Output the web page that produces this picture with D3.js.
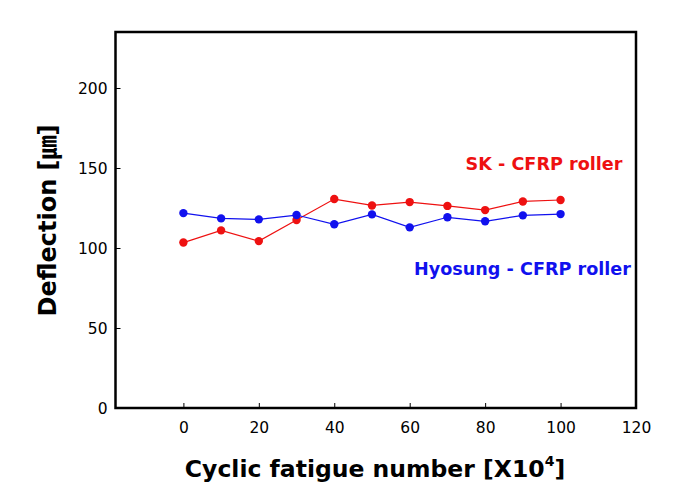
<!DOCTYPE html>
<html><head><meta charset="utf-8">
<script src="https://cdn.jsdelivr.net/npm/d3@7"></script>
<style>body{margin:0;background:#fff}</style>
</head><body>
<script>
const cycles = [0,10,20,30,40,50,60,70,80,90,100];
const skValues = [103.4,111,104.3,117.5,130.6,126.6,128.7,126.3,123.7,129.1,130];
const hyosungValues = [121.8,118.5,117.9,120.6,114.8,121,112.9,119.2,116.7,120.4,121.2];
const xTicks = [0,20,40,60,80,100,120];
const yTicks = [0,50,100,150,200];
const seriesNames = ["SK - CFRP roller","Hyosung - CFRP roller"];

const W=678,H=502;
const m={l:115.5,t:32,r:636,b:408};
const svg=d3.select("body").append("svg").attr("width",W).attr("height",H);
const x=d3.scaleLinear().domain([-18,120]).range([m.l,m.r]);
const y=d3.scaleLinear().domain([0,235]).range([m.b,m.t]);
const font="DejaVu Sans, Verdana, sans-serif";

const gx=svg.append("g").attr("transform",`translate(0,${m.b})`)
  .call(d3.axisBottom(x).tickValues(xTicks).tickSizeInner(-5).tickSizeOuter(0).tickPadding(14));
const gy=svg.append("g").attr("transform",`translate(${m.l},0)`)
  .call(d3.axisLeft(y).tickValues(yTicks).tickSizeInner(-5).tickSizeOuter(0).tickPadding(8));
[gx,gy].forEach(g=>{
  g.select(".domain").remove();
  g.selectAll("text").attr("font-family",font).attr("font-size",15.5).attr("fill","#000");
  g.selectAll("line").attr("stroke","#000").attr("stroke-width",1);
});
gy.selectAll("text").attr("dy","0.35em");
svg.append("rect").attr("x",m.l).attr("y",m.t).attr("width",m.r-m.l).attr("height",m.b-m.t)
  .attr("fill","none").attr("stroke","#000").attr("stroke-width",2.5);

const series=[{v:skValues,c:"#ee1111"},{v:hyosungValues,c:"#1111ee"}];
const line=d3.line().x((d,i)=>x(cycles[i])).y(d=>y(d));
series.forEach(s=>{
  svg.append("path").datum(s.v).attr("d",line).attr("fill","none").attr("stroke",s.c).attr("stroke-width",1.2);
  svg.selectAll(null).data(s.v).enter().append("circle")
    .attr("cx",(d,i)=>x(cycles[i])).attr("cy",d=>y(d)).attr("r",4.2).attr("fill",s.c);
});

svg.append("text").attr("x",544).attr("y",169.5).attr("text-anchor","middle")
  .attr("font-family",font).attr("font-weight","bold").attr("font-size",17.6).attr("fill","#ee1111").text(seriesNames[0]);
svg.append("text").attr("x",522.5).attr("y",275).attr("text-anchor","middle")
  .attr("font-family",font).attr("font-weight","bold").attr("font-size",17.6).attr("fill","#1111ee").text(seriesNames[1]);

const xt=svg.append("text").attr("x",375).attr("y",477).attr("text-anchor","middle")
  .attr("font-family",font).attr("font-weight","bold").attr("font-size",23.5).attr("fill","#000");
xt.append("tspan").text("Cyclic fatigue number [X10");
xt.append("tspan").attr("dy",-11).attr("font-size",14).text("4");
xt.append("tspan").attr("dy",11).text("]");

svg.append("text").attr("transform","translate(56,220.5) rotate(-90)").attr("text-anchor","middle")
  .attr("font-family",font+", Noto Sans CJK KR").attr("font-weight","bold").attr("font-size",24).attr("fill","#000")
  .text("Deflection [㎛]");
</script>
</body></html>
